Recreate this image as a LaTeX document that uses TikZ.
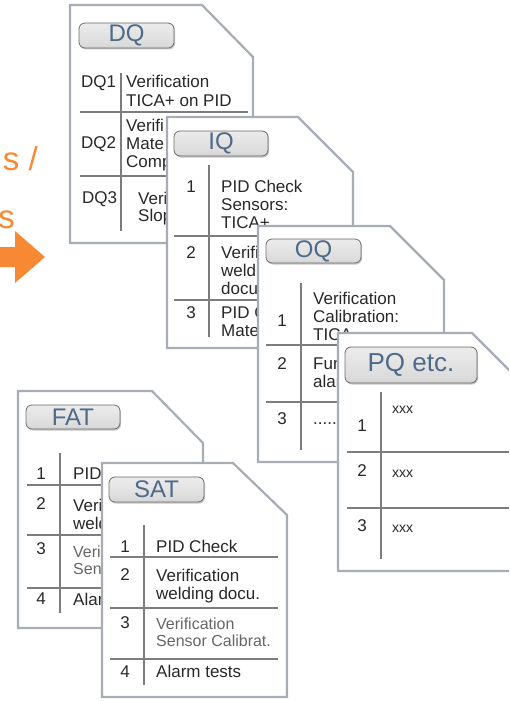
\documentclass[tikz,border=0pt]{standalone}
\usepackage{fontspec}
\setmainfont{Liberation Sans}
\usetikzlibrary{shadows,fadings}
\definecolor{cardline}{RGB}{168,172,180}
\definecolor{tabline}{RGB}{125,125,125}
\definecolor{txtc}{RGB}{40,40,40}
\definecolor{lblc}{RGB}{78,106,136}
\definecolor{orng}{RGB}{247,137,52}
\definecolor{btnborder}{RGB}{110,110,110}
\pgfdeclareverticalshading{btnv}{100bp}{color(0bp)=(gray!80); color(14bp)=(gray!50); color(32bp)=(gray!28); color(72bp)=(gray!16); color(100bp)=(gray!38)}
\pgfdeclarehorizontalshading{btnhmask}{100bp}{color(0bp)=(white); color(12bp)=(black); color(88bp)=(black); color(100bp)=(white)}
\pgfdeclarefading{btnfade}{\pgfuseshading{btnhmask}}
\tikzset{
  card/.style={draw=cardline, line width=2.2pt, fill=white, line join=miter},
  tab/.style={draw=tabline, line width=1.6pt},
  btn/.style={draw=btnborder, line width=0.8pt, rounded corners=6pt,
    shade, shading=btnv, inner sep=0pt, text=lblc,
    font=\fontsize{24}{24}\selectfont,
    drop shadow={shadow xshift=1pt, shadow yshift=-1.5pt, opacity=0.45},
    path picture={\fill[gray!60!black, path fading=btnfade, fit fading=true]
      (path picture bounding box.south west) rectangle (path picture bounding box.north east);}},
  txt/.style={inner sep=0pt, anchor=base west, text=txtc, font=\fontsize{17}{18}\selectfont},
  num/.style={inner sep=0pt, anchor=base, text=txtc, font=\fontsize{17}{18}\selectfont},
  ltxt/.style={txt, text=gray!80!black, font=\fontsize{16}{18}\selectfont},
  otxt/.style={inner sep=0pt, anchor=base east, text=orng, font=\fontsize{33}{33}\selectfont},
}
\begin{document}
\begin{tikzpicture}[x=1pt,y=-1pt]
\useasboundingbox (0,0) rectangle (509,701);
\clip (0,0) rectangle (509,701);

% orange fragment and arrow
\node[otxt] (o1) at (38,170) {s /};
\node[otxt] (o2) at (15,228) {s};
\fill[orng] (0,247) -- (15,247) -- (15,231) -- (45,257) -- (15,283) -- (15,267) -- (0,267) -- cycle;

% ---------------- DQ
\filldraw[card] (70,5) -- (202,5) -- (253,57) -- (253,243) -- (70,243) -- cycle;
\node[btn, minimum width=95pt, minimum height=25pt] (dqb) at (126.5,35.5) {DQ};
\draw[tab] (121,73) -- (121,231);
\draw[tab] (80,112) -- (248,112);
\draw[tab] (80,176) -- (248,176);
\node[txt] (dq1) at (81,88) {DQ1};
\node[txt] (dq1a) at (126,88) {Verification};
\node[txt] (dq1b) at (126,106) {TICA+ on PID};
\node[txt] (dq2) at (81,148) {DQ2};
\node[txt] (dq2a) at (126,131) {Verifi};
\node[txt] (dq2b) at (126,149) {Mate};
\node[txt] (dq2c) at (126,167) {Comp};
\node[txt] (dq3) at (82,203) {DQ3};
\node[txt] (dq3a) at (138,204) {Veri};
\node[txt] (dq3b) at (138,221) {Slop};

% ---------------- IQ
\filldraw[card] (167,117) -- (298,117) -- (353,172) -- (353,348) -- (167,348) -- cycle;
\node[btn, minimum width=94pt, minimum height=25pt] (iqb) at (221,143.5) {IQ};
\draw[tab] (209,165) -- (209,337);
\draw[tab] (174,236) -- (350,236);
\draw[tab] (174,300) -- (350,300);
\node[num] (iq1) at (191,192) {1};
\node[txt] (iq1a) at (221,192) {PID Check};
\node[txt] (iq1b) at (221,210) {Sensors:};
\node[txt] (iq1c) at (221,228) {TICA+};
\node[num] (iq2) at (191,258) {2};
\node[txt] (iq2a) at (221,258) {Verifi};
\node[txt] (iq2b) at (221,276) {weld};
\node[txt] (iq2c) at (221,294) {docu};
\node[num] (iq3) at (191,318) {3};
\node[txt] (iq3a) at (221,318) {PID C};
\node[txt] (iq3b) at (221,336) {Mate};

% ---------------- OQ
\filldraw[card] (258,226) -- (390,226) -- (444,280) -- (444,462) -- (258,462) -- cycle;
\node[btn, minimum width=95pt, minimum height=24pt] (oqb) at (313.5,251) {OQ};
\draw[tab] (301,283) -- (301,450);
\draw[tab] (266,345) -- (440,345);
\draw[tab] (266,402) -- (440,402);
\node[num] (oq1) at (282,326) {1};
\node[txt] (oq1a) at (313,304) {Verification};
\node[txt] (oq1b) at (313,322) {Calibration:};
\node[txt] (oq1c) at (313,340) {TICA};
\node[num] (oq2) at (282,369) {2};
\node[txt] (oq2a) at (313,369) {Fun};
\node[txt] (oq2b) at (313,387) {alar};
\node[num] (oq3) at (282,424) {3};
\node[txt] (oq3a) at (313,424) {......};

% ---------------- PQ
\filldraw[card] (338,333) -- (472,333) -- (525,386) -- (525,571) -- (338,571) -- cycle;
\node[btn, minimum width=132pt, minimum height=36pt, font=\fontsize{26}{26}\selectfont] (pqb) at (411,365) {PQ etc.};
\draw[tab] (381,392) -- (381,559);
\draw[tab] (347,452) -- (525,452);
\draw[tab] (347,508) -- (525,508);
\node[num] (pq1) at (362,431) {1};
\node[txt, font=\fontsize{14}{16}\selectfont] (pq1a) at (392,413) {xxx};
\node[num] (pq2) at (362,476) {2};
\node[txt, font=\fontsize{14}{16}\selectfont] (pq2a) at (392,477) {xxx};
\node[num] (pq3) at (362,531) {3};
\node[txt, font=\fontsize{14}{16}\selectfont] (pq3a) at (392,532) {xxx};

% ---------------- FAT
\filldraw[card] (18,391) -- (152,391) -- (203,443) -- (203,628) -- (18,628) -- cycle;
\node[btn, minimum width=94pt, minimum height=24pt] (fatb) at (73,417) {FAT};
\draw[tab] (60,453) -- (60,613);
\draw[tab] (27,485) -- (200,485);
\draw[tab] (27,535) -- (200,535);
\draw[tab] (27,588) -- (200,588);
\node[num] (fat1) at (41,479) {1};
\node[txt] (fat1a) at (73,479) {PID};
\node[num] (fat2) at (41,509) {2};
\node[txt] (fat2a) at (73,511) {Veri};
\node[txt] (fat2b) at (73,529) {weld};
\node[num] (fat3) at (41,554) {3};
\node[ltxt] (fat3a) at (73,557) {Veri};
\node[ltxt] (fat3b) at (73,574) {Sen};
\node[num] (fat4) at (41,604) {4};
\node[txt] (fat4a) at (73,605) {Alar};

% ---------------- SAT
\filldraw[card] (102,463) -- (233,463) -- (287,515) -- (287,697) -- (102,697) -- cycle;
\node[btn, minimum width=95pt, minimum height=25pt] (satb) at (156.5,489.5) {SAT};
\draw[tab] (144,525) -- (144,685);
\draw[tab] (110,557) -- (278,557);
\draw[tab] (110,608) -- (278,608);
\draw[tab] (110,659) -- (278,659);
\node[num] (sat1) at (125,552) {1};
\node[txt] (sat1a) at (156,552) {PID Check};
\node[num] (sat2) at (125,580) {2};
\node[txt] (sat2a) at (156,581) {Verification};
\node[txt] (sat2b) at (156,599) {welding docu.};
\node[num] (sat3) at (125,628) {3};
\node[ltxt] (sat3a) at (156,629) {Verification};
\node[ltxt] (sat3b) at (156,646) {Sensor Calibrat.};
\node[num] (sat4) at (125,677) {4};
\node[txt] (sat4a) at (156,677) {Alarm tests};
\end{tikzpicture}
\end{document}
